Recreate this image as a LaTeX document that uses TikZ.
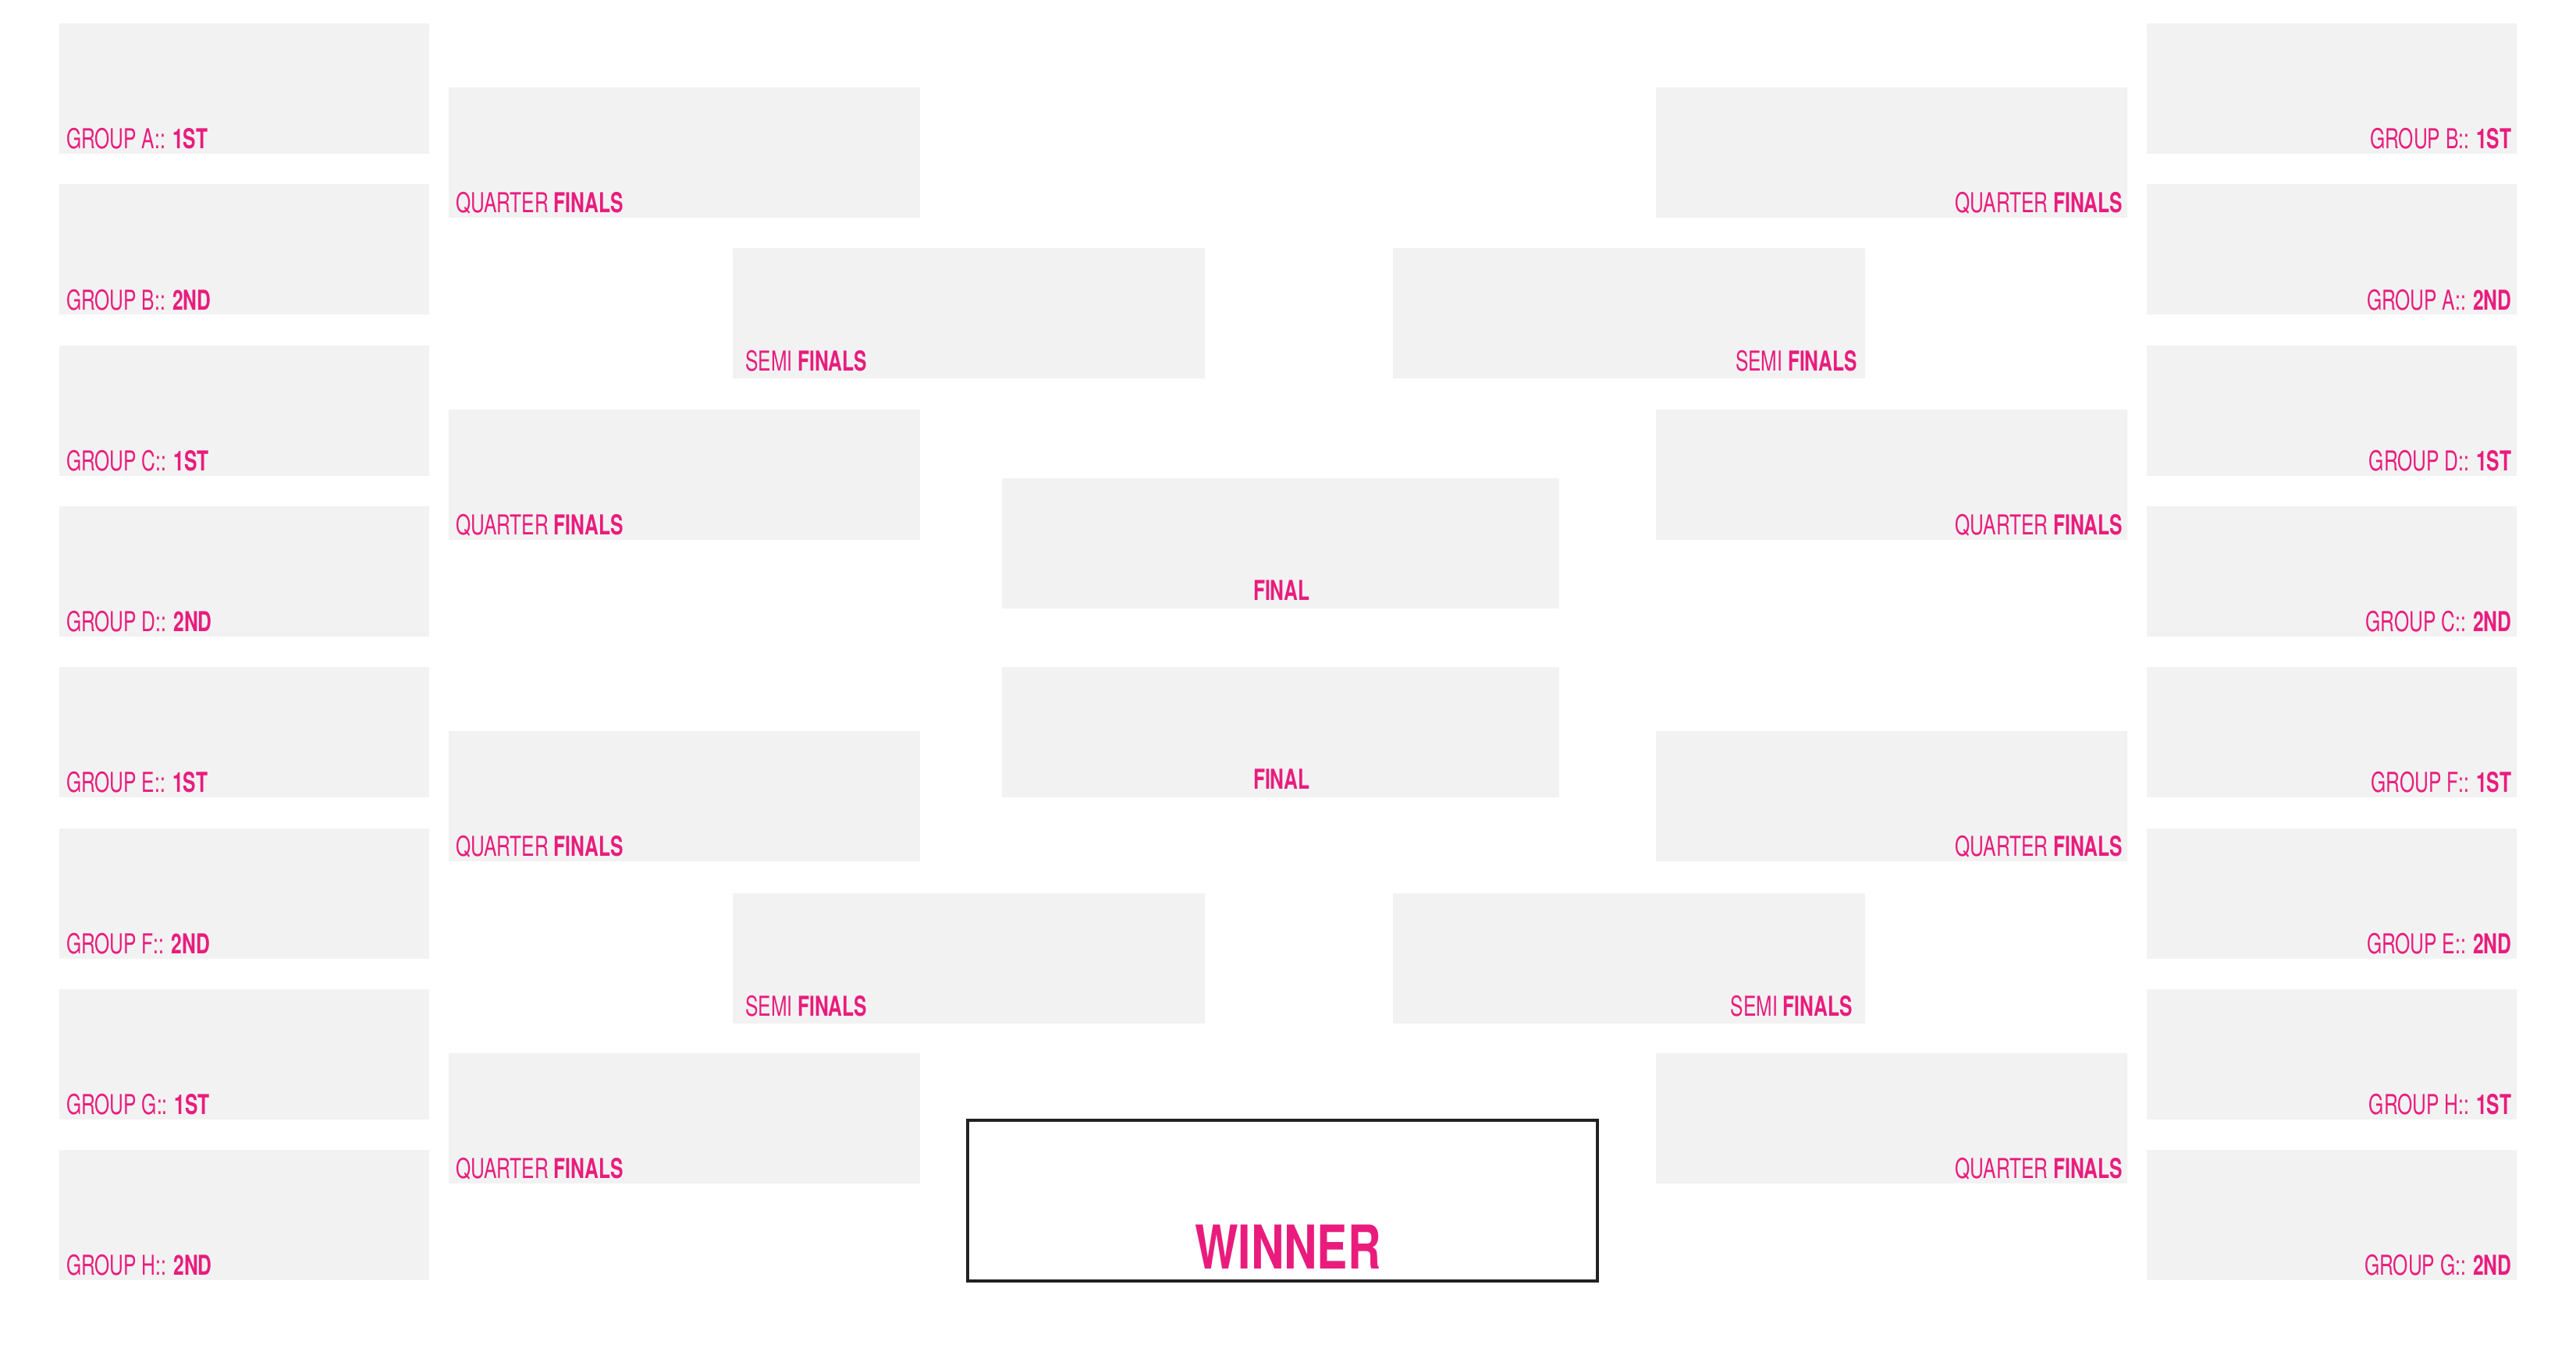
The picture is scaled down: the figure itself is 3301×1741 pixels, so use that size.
\documentclass[tikz,border=0pt]{standalone}
\usepackage{fontspec}
\setmainfont{TeX Gyre Heros}[FakeStretch=0.7]
\newfontfamily\winfont{TeX Gyre Heros}[FakeStretch=0.76]
\definecolor{boxgray}{RGB}{242,242,242}
\definecolor{pink}{RGB}{233,28,125}
\begin{document}
\begin{tikzpicture}[x=0.01cm,y=-0.01cm,
  box/.style={fill=boxgray,draw=none,inner sep=0pt,outer sep=0pt,anchor=north west,minimum height=1.67cm},
  grp/.style={box,minimum width=4.74cm},
  qf/.style={box,minimum width=6.04cm},
  sf/.style={box,minimum width=6.05cm},
  fin/.style={box,minimum width=7.14cm},
  lbl/.style={text=pink,font=\fontsize{10}{12}\selectfont,inner sep=0pt},
  winbox/.style={draw=black!87,line width=1.2pt,fill=white,inner sep=0pt,anchor=north west,minimum width=8.06cm,minimum height=2.06cm}
]
\useasboundingbox (0,0) rectangle (3301,1741);
\fill[white] (0,0) rectangle (3301,1741);

% left groups
\foreach \n/\i in {lA/0,lB/1,lC/2,lD/3,lE/4,lF/5,lG/6,lH/7}
  \node[grp] (\n) at (76,{30+206.3*\i}) {};
% right groups
\foreach \n/\i in {rB/0,rA/1,rD/2,rC/3,rF/4,rE/5,rH/6,rG/7}
  \node[grp] (\n) at (2751,{30+206.3*\i}) {};
% quarter finals
\foreach \k in {0,1,2,3}{
  \node[qf] (lq\k) at (575,{112+412.6*\k}) {};
  \node[qf] (rq\k) at (2122,{112+412.6*\k}) {};
}
% semi finals
\node[sf] (ls0) at (939,318) {};
\node[sf] (ls1) at (939,1145) {};
\node[sf] (rs0) at (1785,318) {};
\node[sf] (rs1) at (1785,1145) {};
% finals
\node[fin] (f0) at (1284,613) {};
\node[fin] (f1) at (1284,855) {};
% winner
\node[winbox] (win) at (1238,1434) {};

% group labels left
\foreach \n/\g/\p in {lA/A/1ST,lB/B/2ND,lC/C/1ST,lD/D/2ND,lE/E/1ST,lF/F/2ND,lG/G/1ST,lH/H/2ND}
  \node[lbl,anchor=base west] (t\n) at ([xshift=2.4pt,yshift=1.8pt]\n.south west) {GROUP \g:: \textbf{\p}};
% group labels right
\foreach \n/\g/\p in {rB/B/1ST,rA/A/2ND,rD/D/1ST,rC/C/2ND,rF/F/1ST,rE/E/2ND,rH/H/1ST,rG/G/2ND}
  \node[lbl,anchor=base east] (t\n) at ([xshift=-1.8pt,yshift=1.8pt]\n.south east) {GROUP \g:: \textbf{\p}};
% quarter labels
\foreach \k in {0,1,2,3}{
  \node[lbl,anchor=base west] (tlq\k) at ([xshift=2.4pt,yshift=1.8pt]lq\k.south west) {QUARTER \textbf{FINALS}};
  \node[lbl,anchor=base east] (trq\k) at ([xshift=-1.6pt,yshift=1.8pt]rq\k.south east) {QUARTER \textbf{FINALS}};
}
% semi labels
\node[lbl,anchor=base west] (tls0) at ([xshift=4.4pt,yshift=2.6pt]ls0.south west) {SEMI \textbf{FINALS}};
\node[lbl,anchor=base west] (tls1) at ([xshift=4.4pt,yshift=2.6pt]ls1.south west) {SEMI \textbf{FINALS}};
\node[lbl,anchor=base east] (trs0) at ([xshift=-2.8pt,yshift=2.6pt]rs0.south east) {SEMI \textbf{FINALS}};
\node[lbl,anchor=base east] (trs1) at ([xshift=-4.6pt,yshift=2.6pt]rs1.south east) {SEMI \textbf{FINALS}};
% final labels
\node[lbl,anchor=base] (tf0) at ([xshift=0.3pt,yshift=3.0pt]f0.south) {\textbf{FINAL}};
\node[lbl,anchor=base] (tf1) at ([xshift=0.3pt,yshift=3.0pt]f1.south) {\textbf{FINAL}};
% winner label
\node[text=pink,inner sep=0pt,anchor=base,font=\winfont\bfseries\fontsize{22}{26}\selectfont] (twin) at ([xshift=2pt,yshift=5.2pt]win.south) {WINNER};
\end{tikzpicture}
\end{document}
